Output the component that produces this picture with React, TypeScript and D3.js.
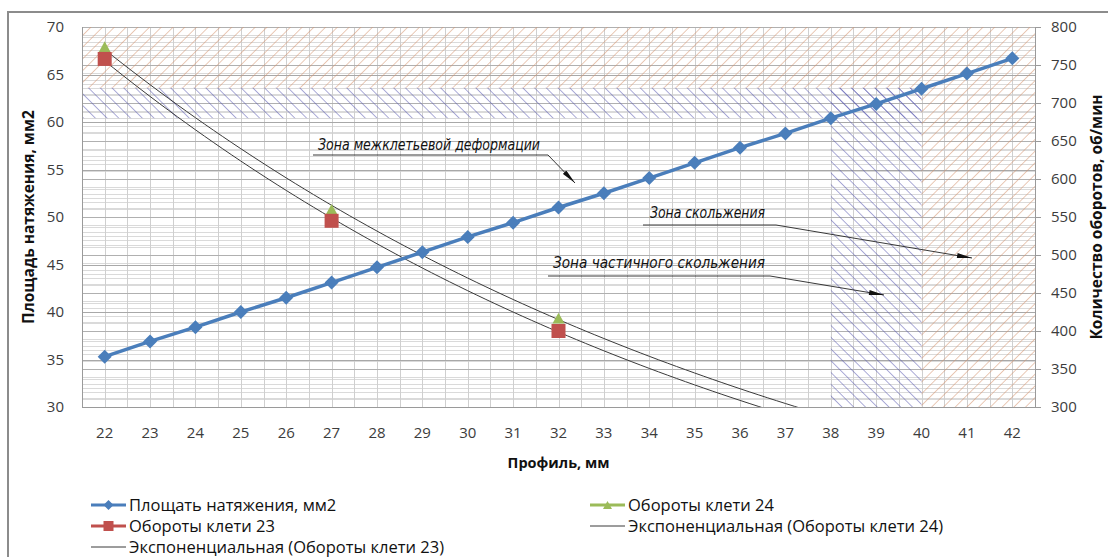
import * as d3 from 'd3';
import React from 'react';

// profile sizes on the category axis
const profiles = [22, 23, 24, 25, 26, 27, 28, 29, 30, 31, 32, 33, 34, 35, 36, 37, 38, 39, 40, 41, 42];
// tension area, mm2 (left axis)
const tensionArea = [35.3, 36.9, 38.4, 40.0, 41.5, 43.1, 44.7, 46.3, 47.9, 49.4, 51.0, 52.5, 54.1, 55.7, 57.3, 58.8, 60.4, 61.9, 63.5, 65.1, 66.7];
// stand rpm (right axis)
const stand23Profiles = [22, 27, 32];
const stand23Rpm = [758, 545, 400];
const stand24Profiles = [22, 27, 32];
const stand24Rpm = [774, 560, 417];

const leftTicks = [30, 35, 40, 45, 50, 55, 60, 65, 70];
const rightTicks = [300, 350, 400, 450, 500, 550, 600, 650, 700, 750, 800];

const W = 1108;
const H = 557;
const plot = { left: 82, right: 1035, top: 27, bottom: 407 };

const x = d3.scaleLinear().domain([21.5, 42.5]).range([plot.left, plot.right]);
const yL = d3.scaleLinear().domain([30, 70]).range([plot.bottom, plot.top]);
const yR = d3.scaleLinear().domain([300, 800]).range([plot.bottom, plot.top]);

// exponential trendline like Excel: least squares on ln(y)
function expFit(xs: number[], ys: number[]) {
  const ly = ys.map(Math.log);
  const mx = d3.mean(xs) as number;
  const my = d3.mean(ly) as number;
  const b = d3.sum(xs.map((v, i) => (v - mx) * (ly[i] - my))) / d3.sum(xs.map(v => (v - mx) ** 2));
  const a = my - b * mx;
  return (v: number) => Math.exp(a + b * v);
}

const fit23 = expFit(stand23Profiles, stand23Rpm);
const fit24 = expFit(stand24Profiles, stand24Rpm);
const trendX = d3.range(22, 42.01, 0.2);

const lineGen = d3.line<[number, number]>().x(d => d[0]).y(d => d[1]);

const FONT = "'Open Sans', 'Liberation Sans', sans-serif";
const NOTE_FONT = "'Liberation Sans Narrow', 'DejaVu Sans Condensed', sans-serif";
const BLUE = '#4A7EBB';
const RED = '#C0504D';
const GREEN = '#9BBB59';

function Diamond({ cx, cy, r }: { cx: number; cy: number; r: number }) {
  return <path d={`M${cx},${cy - r}L${cx + r},${cy}L${cx},${cy + r}L${cx - r},${cy}Z`} fill={BLUE} />;
}
function Square({ cx, cy, s }: { cx: number; cy: number; s: number }) {
  return <rect x={cx - s / 2} y={cy - s / 2} width={s} height={s} fill={RED} />;
}
function Triangle({ cx, cy, s }: { cx: number; cy: number; s: number }) {
  const h = s * 0.9;
  return <path d={`M${cx},${cy - h / 2}L${cx + s / 2},${cy + h / 2}L${cx - s / 2},${cy + h / 2}Z`} fill={GREEN} />;
}

export default function App() {
  const halfSteps = d3.range(21.5, 42.51, 0.5);
  const leftMinor = d3.range(30, 70.1, 1);
  const rightMinor = d3.range(300, 800.1, 10);
  const r = (v: number) => Math.round(v) + 0.5;

  const areaPts: [number, number][] = profiles.map((p, i) => [x(p), yL(tensionArea[i])]);
  const t23: [number, number][] = trendX.map(v => [x(v), yR(fit23(v))]);
  const t24: [number, number][] = trendX.map(v => [x(v), yR(fit24(v))]);

  // hatched zones (data coordinates: profile, rpm)
  const zones = [
    { x0: 21.5, x1: 42.5, r0: 720, r1: 800, fill: 'url(#hatchOrange)' },
    { x0: 21.5, x1: 40, r0: 680, r1: 720, fill: 'url(#hatchBlue)' },
    { x0: 38, x1: 40, r0: 300, r1: 720, fill: 'url(#hatchBlue)' },
    { x0: 40, x1: 42.5, r0: 300, r1: 720, fill: 'url(#hatchOrange)' },
  ];

  const notes = [
    { text: 'Зона межклетьевой деформации', tx: 318, ty: 150, tl: 222, u0: 313, u1: 548, uy: 155, ax: 575, ay: 183 },
    { text: 'Зона скольжения', tx: 650, ty: 218, tl: 115, u0: 643, u1: 776, uy: 225, ax: 972, ay: 258 },
    { text: 'Зона частичного скольжения', tx: 553, ty: 268, tl: 212, u0: 548, u1: 770, uy: 276, ax: 884, ay: 295 },
  ];

  const legendRows = [505, 526, 547];

  return (
    <svg width={W} height={H} style={{ position: 'absolute', left: 0, top: 0, background: '#fff' }}>
      <defs>
        <pattern id="hatchOrange" patternUnits="userSpaceOnUse" width={8.3} height={8.3} patternTransform="rotate(45)">
          <line x1={0} y1={0} x2={0} y2={8.3} stroke="#D4936E" strokeWidth={1} />
        </pattern>
        <pattern id="hatchBlue" patternUnits="userSpaceOnUse" width={8.3} height={8.3} patternTransform="rotate(-45)">
          <line x1={0} y1={0} x2={0} y2={8.3} stroke="#5656AE" strokeWidth={1} />
        </pattern>
        <clipPath id="plotClip">
          <rect x={plot.left} y={plot.top} width={plot.right - plot.left} height={plot.bottom - plot.top} />
        </clipPath>
        <marker id="arrow" viewBox="0 0 12 4" refX={12} refY={2} markerWidth={16} markerHeight={5} orient="auto" markerUnits="userSpaceOnUse">
          <path d="M0,0L12,2L0,4Z" fill="#111" />
        </marker>
      </defs>

      {/* chart frame */}
      <rect x={8} y={12} width={W + 10} height={H + 10} fill="none" stroke="#8c8c8c" strokeWidth={2} />

      {/* gridlines */}
      <g shapeRendering="crispEdges">
        {leftMinor.map(v => (
          <line key={'lm' + v} x1={plot.left} x2={plot.right} y1={r(yL(v))} y2={r(yL(v))} stroke="#dadada" />
        ))}
        {rightMinor.map(v => (
          <line key={'rm' + v} x1={plot.left} x2={plot.right} y1={r(yR(v))} y2={r(yR(v))} stroke="#dadada" />
        ))}
        {halfSteps.map(v => (
          <line key={'v' + v} x1={r(x(v))} x2={r(x(v))} y1={plot.top} y2={plot.bottom} stroke="#cfcfcf" />
        ))}
        {leftTicks.map(v => (
          <line key={'lM' + v} x1={plot.left} x2={plot.right} y1={r(yL(v))} y2={r(yL(v))} stroke="#a8a8a8" />
        ))}
        {rightTicks.map(v => (
          <line key={'rM' + v} x1={plot.left} x2={plot.right} y1={r(yR(v))} y2={r(yR(v))} stroke="#b0b0b0" />
        ))}
      </g>

      {/* zones */}
      {zones.map((z, i) => (
        <rect key={'z' + i} x={x(z.x0)} y={yR(z.r1)} width={x(z.x1) - x(z.x0)} height={yR(z.r0) - yR(z.r1)} fill={z.fill} />
      ))}

      {/* axes lines */}
      <g shapeRendering="crispEdges" stroke="#9a9a9a">
        <line x1={plot.left} x2={plot.right} y1={r(plot.bottom)} y2={r(plot.bottom)} />
        <line x1={r(plot.left)} x2={r(plot.left)} y1={plot.top} y2={plot.bottom} />
        <line x1={r(plot.right)} x2={r(plot.right)} y1={plot.top} y2={plot.bottom + 1} />
        {rightTicks.map(v => (
          <line key={'rt' + v} x1={plot.right} x2={plot.right + 6} y1={r(yR(v))} y2={r(yR(v))} />
        ))}
      </g>

      {/* tick labels */}
      <g fontFamily={FONT} fontSize={15} fill="#3c3c3c">
        {leftTicks.map(v => (
          <text key={'lt' + v} x={64} y={yL(v)} dy="0.36em" textAnchor="end">{v}</text>
        ))}
        {rightTicks.map(v => (
          <text key={'rtl' + v} x={1051} y={yR(v)} dy="0.36em">{v}</text>
        ))}
        {profiles.map(p => (
          <text key={'xt' + p} x={x(p)} y={438} textAnchor="middle">{p}</text>
        ))}
      </g>

      {/* axis titles */}
      <g fontFamily={FONT} fontWeight="bold" fill="#111">
        <text fontSize={14.5} x={(plot.left + plot.right) / 2} y={468} textAnchor="middle">Профиль, мм</text>
        <text fontSize={15.5} transform={`translate(34,${(plot.top + plot.bottom) / 2}) rotate(-90)`} textAnchor="middle">Площадь натяжения, мм2</text>
        <text fontSize={15.5} transform={`translate(1102,${(plot.top + plot.bottom) / 2}) rotate(-90)`} textAnchor="middle">Количество оборотов, об/мин</text>
      </g>

      {/* trendlines */}
      <g clipPath="url(#plotClip)" fill="none" stroke="#3a3a3a" strokeWidth={1}>
        <path d={lineGen(t24) as string} />
        <path d={lineGen(t23) as string} />
      </g>

      {/* tension area series */}
      <path d={lineGen(areaPts) as string} fill="none" stroke={BLUE} strokeWidth={3.5} strokeLinejoin="round" />
      {areaPts.map((p, i) => (
        <Diamond key={'d' + i} cx={p[0]} cy={p[1]} r={7} />
      ))}

      {/* rpm markers */}
      {stand24Profiles.map((p, i) => (
        <Triangle key={'g' + i} cx={x(p)} cy={yR(stand24Rpm[i])} s={12} />
      ))}
      {stand23Profiles.map((p, i) => (
        <Square key={'s' + i} cx={x(p)} cy={yR(stand23Rpm[i])} s={14} />
      ))}

      {/* zone annotations */}
      {notes.map((n, i) => (
        <g key={'n' + i}>
          <text x={n.tx} y={n.ty} fontFamily={NOTE_FONT} fontStyle="italic" fontSize={16} fill="#111" textLength={n.tl} lengthAdjust="spacingAndGlyphs">{n.text}</text>
          <polyline points={`${n.u0},${n.uy} ${n.u1},${n.uy} ${n.ax},${n.ay}`} fill="none" stroke="#222" strokeWidth={0.9} markerEnd="url(#arrow)" />
        </g>
      ))}

      {/* legend */}
      <g fontFamily={FONT} fontSize={16.5} fill="#111">
        <line x1={91} x2={126} y1={legendRows[0]} y2={legendRows[0]} stroke={BLUE} strokeWidth={3} />
        <Diamond cx={108.5} cy={legendRows[0]} r={5} />
        <text x={129} y={legendRows[0]} dy="0.36em">Площать натяжения, мм2</text>

        <line x1={91} x2={126} y1={legendRows[1]} y2={legendRows[1]} stroke={RED} strokeWidth={3} />
        <Square cx={108.5} cy={legendRows[1]} s={10} />
        <text x={129} y={legendRows[1]} dy="0.36em">Обороты клети 23</text>

        <line x1={91} x2={126} y1={legendRows[2]} y2={legendRows[2]} stroke="#3a3a3a" strokeWidth={1} />
        <text x={129} y={legendRows[2]} dy="0.36em">Экспоненциальная (Обороты клети 23)</text>

        <line x1={590} x2={625} y1={legendRows[0]} y2={legendRows[0]} stroke={GREEN} strokeWidth={3} />
        <Triangle cx={607.5} cy={legendRows[0]} s={9} />
        <text x={628} y={legendRows[0]} dy="0.36em">Обороты клети 24</text>

        <line x1={590} x2={625} y1={legendRows[1]} y2={legendRows[1]} stroke="#3a3a3a" strokeWidth={1} />
        <text x={628} y={legendRows[1]} dy="0.36em">Экспоненциальная (Обороты клети 24)</text>
      </g>
    </svg>
  );
}
